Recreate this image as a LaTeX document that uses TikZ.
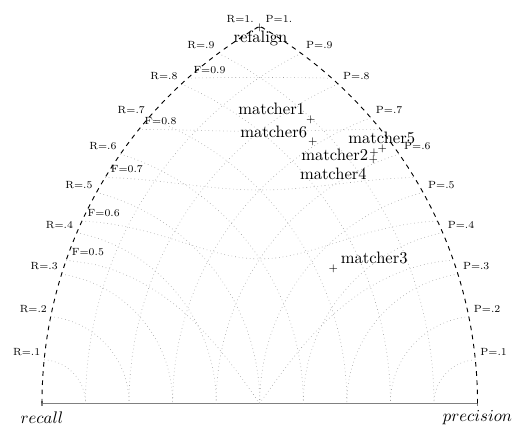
\documentclass[tikz,border=0pt]{standalone}
\usetikzlibrary{calc}
\tikzset{
  declare function={
    fp(\f,\t)=\f*\t/(2*\t-\f);
    fx(\f,\t)=5*(\t*\t-fp(\f,\t)*fp(\f,\t)+1);
    fy(\f,\t)=10*sqrt(max(0,\t*\t-(fx(\f,\t)/10)*(fx(\f,\t)/10)));
  },
  gridline/.style={gray!75, dotted, line width=0.4pt},
  border/.style={black, dashed, line width=0.6pt},
  baseline/.style={gray, line width=0.7pt},
  smalllab/.style={inner sep=0pt, font=\fontsize{6.8}{8}\selectfont},
  biglab/.style={inner sep=0pt, font=\fontsize{10.8}{13}\selectfont},
  axislab/.style={inner sep=0pt, font=\fontsize{11}{13}\selectfont},
  pt/.style={inner sep=0pt, font=\fontsize{7}{8}\selectfont},
}
\begin{document}
\begin{tikzpicture}
\useasboundingbox (-0.964,-0.659) rectangle (11.251,9.261);
% base
\coordinate (rc) at (0,0);
\coordinate (pc) at (10,0);
\draw[baseline] (rc) -- (pc);
\draw[baseline] (0,-0.06) -- (0,0.06);
\draw[baseline] (10,-0.06) -- (10,0.06);
% R and P arcs
\foreach \r/\lab in {0.1/.1,0.2/.2,0.3/.3,0.4/.4,0.5/.5,0.6/.6,0.7/.7,0.8/.8,0.9/.9}{
  \draw[gridline] ({acos(\r/2)}:{10*\r}) arc[start angle={acos(\r/2)}, end angle=0, radius={10*\r}];
  \draw[gridline,shift={(10,0)}] ({180-acos(\r/2)}:{10*\r}) arc[start angle={180-acos(\r/2)}, end angle=180, radius={10*\r}];
  \node[smalllab] (rl\lab) at ({5*\r*\r-0.4},{10*\r*sqrt(1-\r*\r/4)+0.18}) {R=\lab};
  \node[smalllab] (pl\lab) at ({10-5*\r*\r+0.42},{10*\r*sqrt(1-\r*\r/4)+0.18}) {P=\lab};
}
\node[smalllab] (rl1) at (4.55,8.82) {R=1.};
\node[smalllab] (pl1) at (5.44,8.82) {P=1.};
% F curves
\foreach \f in {0.5,0.6,0.7,0.8,0.9}{
  \pgfmathsetmacro{\lo}{\f/(2-\f)}
  \draw[gridline] plot[domain=\lo:1, samples=90, variable=\t] ({fx(\f,\t)},{fy(\f,\t)});
  \node[smalllab] (fl\f) at ({5*\lo*\lo+0.5},{10*\lo*sqrt(1-\lo*\lo/4)+0.19}) {F=\f};
}
% borders
\draw[border] (rc) arc[start angle=180, end angle=120, radius=10];
\draw[border] (pc) arc[start angle=0, end angle=60, radius=10];
% axis labels
\node[axislab] (recall) at (0,-0.33) {$recall$};
\node[axislab] (precision) at (10,-0.33) {$precision$};
% points
\node[pt] (p0) at (5,8.62) {+};
\node[biglab] (l0) at (5.017,8.39) {refalign};
\node[pt] (p1) at (6.170,6.521) {+};
\node[biglab] (l1) at (5.274,6.758) {matcher1};
\node[pt] (p6) at (6.216,6.007) {+};
\node[biglab] (l6) at (5.320,6.236) {matcher6};
\node[pt] (p5) at (7.814,5.846) {+};
\node[biglab] (l5) at (7.800,6.085) {matcher5};
\node[pt] (p2) at (7.623,5.754) {+};
\node[biglab] (l2) at (6.721,5.701) {matcher2};
\node[pt] (p4) at (7.607,5.587) {+};
\node[biglab] (l4) at (6.689,5.258) {matcher4};
\node[pt] (p3) at (6.689,3.084) {+};
\node[biglab] (l3) at (7.628,3.336) {matcher3};
\end{tikzpicture}
\end{document}
